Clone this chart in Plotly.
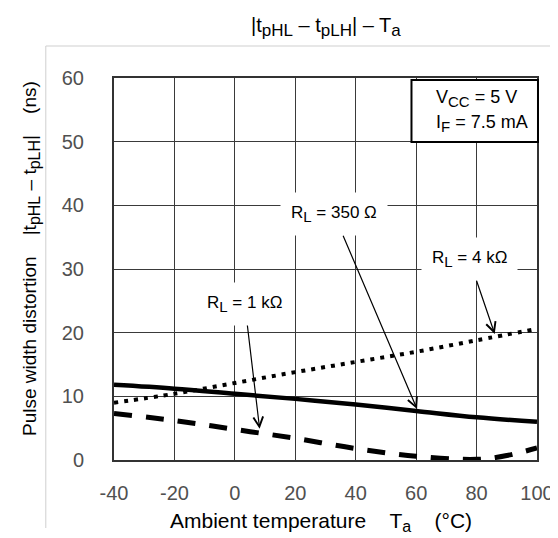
import plotly.graph_objects as go

# ---- data ----
temp = [-40, -20, 0, 20, 40, 60, 80, 100]
rl_350 = [11.8, 11.2, 10.4, 9.6, 8.7, 7.7, 6.7, 6.0]
rl_4k = [9.0, 10.4, 12.1, 13.8, 15.4, 17.0, 18.8, 20.6]
temp_1k = [-40, -20, 0, 20, 40, 60, 80, 90, 100]
rl_1k = [7.3, 6.2, 4.8, 3.4, 1.8, 0.6, 0.1, 0.7, 1.9]

x_ticks = [-40, -20, 0, 20, 40, 60, 80, 100]
y_ticks = [0, 10, 20, 30, 40, 50, 60]

FONT = "Liberation Sans, Arial, sans-serif"
W, H = 558, 538
L, R, T, B = 106, 24, 70, 86
PW, PH = W - L - R, H - T - B


def px(xp):
    return (xp - L) / PW


def py(yp):
    return (H - B - yp) / PH


def sub(s, size):
    return "<sub><span style='font-size:%dpx'>%s</span></sub>" % (size, s)


fig = go.Figure()
fig.add_trace(go.Scatter(x=temp, y=rl_350, mode="lines", line=dict(color="black", width=4.5, shape="spline"),
                         showlegend=False, hoverinfo="skip"))
fig.add_trace(go.Scatter(x=temp, y=rl_4k, mode="lines", line=dict(color="black", width=4, dash="4px,6px", shape="spline"),
                         showlegend=False, hoverinfo="skip"))
fig.add_trace(go.Scatter(x=temp_1k, y=rl_1k, mode="lines", line=dict(color="black", width=5, dash="18px,14px", shape="spline"),
                         showlegend=False, hoverinfo="skip"))

annots = []
# title
annots.append(dict(text="|t" + sub("pHL", 17) + " \u2013 t" + sub("pLH", 17) + "| \u2013 T" + sub("a", 17),
                   xref="paper", yref="paper",
                   x=0.5, y=py(19), xanchor="center", yanchor="middle", showarrow=False,
                   font=dict(size=20, color="black", family=FONT)))
# y axis title
annots.append(dict(text="Pulse width distortion\u00a0\u00a0\u00a0\u00a0|t" + sub("pHL", 16) + " \u2013 t" + sub("pLH", 16)
                   + "|\u00a0\u00a0\u00a0\u00a0(ns)",
                   xref="paper", yref="paper", x=px(22), y=py(250), xanchor="center", yanchor="middle",
                   textangle=-90, showarrow=False, font=dict(size=19, color="black", family=FONT)))
# x axis title
annots.append(dict(text="Ambient temperature\u00a0\u00a0\u00a0\u00a0T" + sub("a", 16) + "\u00a0\u00a0\u00a0\u00a0(\u00b0C)",
                   xref="paper", yref="paper", x=px(470), y=py(514), xanchor="right", yanchor="middle",
                   showarrow=False, font=dict(size=21, color="black", family=FONT)))
# conditions box text
annots.append(dict(text="V" + sub("CC", 15) + " = 5 V", xref="paper", yref="paper", x=px(430), y=py(90),
                   xanchor="left", yanchor="middle", showarrow=False, font=dict(size=18, color="black", family=FONT)))
annots.append(dict(text="I" + sub("F", 15) + " = 7.5 mA", xref="paper", yref="paper", x=px(430), y=py(115),
                   xanchor="left", yanchor="middle", showarrow=False, font=dict(size=18, color="black", family=FONT)))

# curve labels with arrows
labels = [
    ("R" + sub("L", 15) + " = 350 \u03a9", 32.8, 38.6, 60.3, 8.0),
    ("R" + sub("L", 15) + " = 1 k\u03a9", 3.3, 24.5, 8.2, 4.9),
    ("R" + sub("L", 15) + " = 4 k\u03a9", 77.6, 31.5, 86.0, 19.8),
]
for txt, tx, ty, hx, hy in labels:
    annots.append(dict(text=txt, x=hx, y=hy, ax=tx, ay=ty, axref="x", ayref="y", xref="x", yref="y",
                       showarrow=True, arrowhead=5, arrowsize=1.6, arrowwidth=1.2, arrowcolor="black",
                       bgcolor="white", borderpad=10, font=dict(size=17, color="black", family=FONT)))

shapes = [
    # outer light frame
    dict(type="line", xref="paper", yref="paper", x0=px(37), x1=px(37), y0=py(38), y1=py(520),
         line=dict(color="#cfcfcf", width=1)),
    dict(type="line", xref="paper", yref="paper", x0=px(37), x1=px(558), y0=py(38), y1=py(38),
         line=dict(color="#cfcfcf", width=1)),
    # conditions box
    dict(type="rect", xref="paper", yref="paper", x0=px(407), x1=px(535), y0=py(134), y1=py(72),
         line=dict(color="black", width=2), fillcolor="white", layer="above"),
]

fig.update_layout(
    width=W, height=H,
    margin=dict(l=L, r=R, t=T, b=B),
    paper_bgcolor="white", plot_bgcolor="white",
    font=dict(family=FONT, size=18, color="#444444"),
    annotations=annots,
    shapes=shapes,
    xaxis=dict(range=[-40, 100], tickvals=x_ticks, ticktext=[str(v) for v in x_ticks],
               showgrid=True, gridcolor="#3a3a3a", gridwidth=1.3, zeroline=False,
               showline=True, linecolor="#333333", linewidth=2, mirror=True, ticks="",
               ticklabelstandoff=14, tickfont=dict(size=20, color="#505050", family=FONT)),
    yaxis=dict(range=[0, 60], tickvals=y_ticks, ticktext=[str(v) for v in y_ticks],
               showgrid=True, gridcolor="#3a3a3a", gridwidth=1.3, zeroline=False,
               showline=True, linecolor="#333333", linewidth=2, mirror=True, ticks="",
               ticklabelstandoff=24, tickfont=dict(size=20, color="#505050", family=FONT)),
)

fig.write_html("out.html")
